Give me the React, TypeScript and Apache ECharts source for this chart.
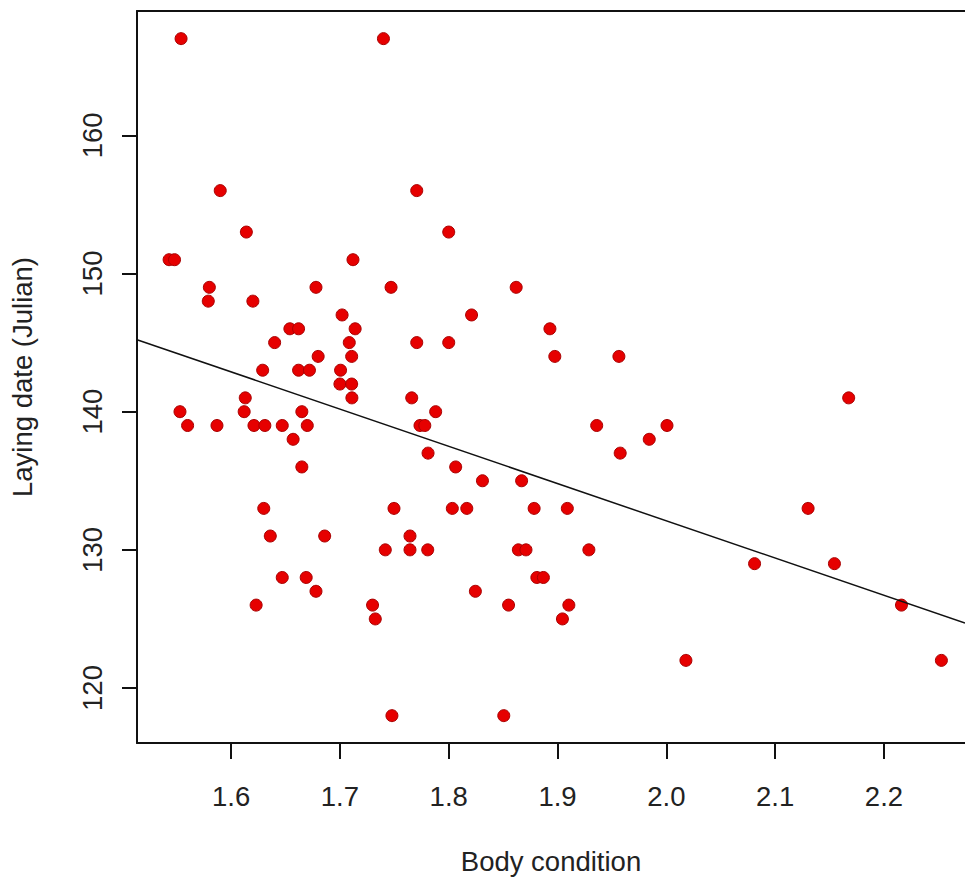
import React, { useEffect, useRef } from "react";
import * as echarts from "echarts";

// Body condition (x) and laying date (Julian, y) for each bird
const bodyCondition = [
  1.554, 1.74, 1.59, 1.7706, 1.614, 1.8, 1.543, 1.548, 1.712, 1.58,
  1.678, 1.747, 1.862, 1.579, 1.62, 1.702, 1.821, 1.654, 1.662, 1.714,
  1.893, 1.64, 1.7086, 1.7706, 1.8, 1.68, 1.7108, 1.8975, 1.9564, 1.629,
  1.662, 1.672, 1.7006, 1.7, 1.7108, 1.613, 1.711, 1.766, 2.1676, 1.553,
  1.612, 1.665, 1.788, 1.56, 1.587, 1.621, 1.631, 1.647, 1.67, 1.7736,
  1.778, 1.936, 2.0006, 1.657, 1.9843, 1.781, 1.9576, 1.665, 1.8064, 1.831,
  1.867, 1.63, 1.7497, 1.8033, 1.8166, 1.8785, 1.909, 2.1303, 1.636, 1.686,
  1.7644, 1.7417, 1.7644, 1.7807, 1.864, 1.871, 1.9288, 2.0811, 2.1545, 1.647,
  1.669, 1.881, 1.887, 1.678, 1.8245, 1.623, 1.73, 1.855, 1.9104, 2.2161,
  1.7325, 1.9045, 2.018, 2.2528, 1.7478, 1.8506,
];
const layingDate = [
  167, 167, 156, 156, 153, 153, 151, 151, 151, 149,
  149, 149, 149, 148, 148, 147, 147, 146, 146, 146,
  146, 145, 145, 145, 145, 144, 144, 144, 144, 143,
  143, 143, 143, 142, 142, 141, 141, 141, 141, 140,
  140, 140, 140, 139, 139, 139, 139, 139, 139, 139,
  139, 139, 139, 138, 138, 137, 137, 136, 136, 135,
  135, 133, 133, 133, 133, 133, 133, 133, 131, 131,
  131, 130, 130, 130, 130, 130, 130, 129, 129, 128,
  128, 128, 128, 127, 127, 126, 126, 126, 126, 126,
  125, 125, 122, 122, 118, 118,
];

// Fitted regression line: layingDate = intercept + slope * bodyCondition
const regIntercept = 186.0;
const regSlope = -26.95;

// Axes
const xTicks = [1.6, 1.7, 1.8, 1.9, 2.0, 2.1, 2.2];
const yTicks = [120, 130, 140, 150, 160];
const xRange = [1.5135, 2.2745];
const yRange = [116.02, 169.0];

const FONT = "'Liberation Sans', Arial, Helvetica, sans-serif";
const FS = 27.5;

export default function App() {
  const ref = useRef<HTMLDivElement>(null);

  useEffect(() => {
    if (!ref.current) return;
    const chart = echarts.init(ref.current, null, { renderer: "svg" });
    const points = bodyCondition.map((x, i) => [x, layingDate[i]]);
    const linePts = xRange.map((x) => [x, regIntercept + regSlope * x]);
    const axisLineStyle = { color: "#111", width: 2 };

    chart.setOption({
      animation: false,
      backgroundColor: "#fff",
      grid: { left: 137, top: 11, right: 0, bottom: 144, containLabel: false },
      xAxis: [
        {
          type: "value",
          min: xRange[0],
          max: xRange[1],
          position: "bottom",
          name: "Body condition",
          nameLocation: "middle",
          nameGap: 104,
          nameTextStyle: { fontFamily: FONT, fontSize: FS, color: "#222" },
          axisLine: { show: true, onZero: false, lineStyle: axisLineStyle },
          axisTick: {
            show: true,
            length: 16,
            customValues: xTicks,
            lineStyle: { color: "#111", width: 2 },
          },
          axisLabel: {
            show: true,
            customValues: xTicks,
            margin: 39,
            fontFamily: FONT,
            fontSize: FS,
            color: "#222",
            formatter: (v: number) => v.toFixed(1),
          },
          splitLine: { show: false },
        },
        {
          type: "value",
          min: xRange[0],
          max: xRange[1],
          position: "top",
          axisLine: { show: true, onZero: false, lineStyle: axisLineStyle },
          axisTick: { show: false },
          axisLabel: { show: false },
          splitLine: { show: false },
        },
      ],
      yAxis: {
        type: "value",
        min: yRange[0],
        max: yRange[1],
        name: "Laying date (Julian)",
        nameLocation: "middle",
        nameGap: 101,
        nameTextStyle: { fontFamily: FONT, fontSize: FS, color: "#222" },
        axisLine: { show: true, onZero: false, lineStyle: axisLineStyle },
        axisTick: {
          show: true,
          length: 15,
          customValues: yTicks,
          lineStyle: { color: "#111", width: 2 },
        },
        axisLabel: {
          show: true,
          customValues: yTicks,
          rotate: 90,
          margin: 31,
          fontFamily: FONT,
          fontSize: FS,
          color: "#222",
        },
        splitLine: { show: false },
      },
      series: [
        {
          type: "scatter",
          data: points,
          symbol: "circle",
          symbolSize: 12,
          itemStyle: { color: "#e60000", borderColor: "#a80000", borderWidth: 1, opacity: 1 },
          z: 2,
        },
        {
          type: "line",
          data: linePts,
          symbol: "none",
          lineStyle: { color: "#111", width: 1.5 },
          z: 3,
        },
      ],
    });

    return () => chart.dispose();
  }, []);

  return (
    <div
      ref={ref}
      style={{ position: "fixed", left: 0, top: 0, width: 965, height: 887, background: "#fff" }}
    />
  );
}
